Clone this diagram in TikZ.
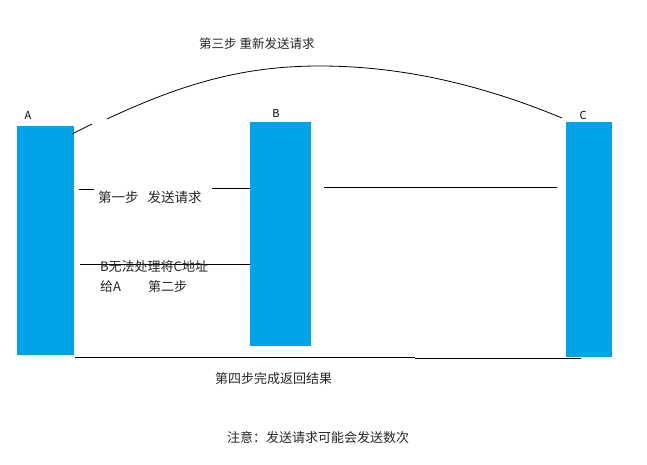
\documentclass[tikz,border=0pt]{standalone}
\usepackage{fontspec}
\setmainfont{Noto Sans CJK SC}
\definecolor{barblue}{RGB}{0,162,232}
\begin{document}
\begin{tikzpicture}[x=1pt,y=-1pt,
  bar/.style={fill=barblue,draw=none,inner sep=0pt,outer sep=0pt},
  lbl/.style={font=\fontsize{11}{13}\selectfont,inner sep=0pt},
  txt/.style={font=\fontsize{13}{20}\selectfont,inner sep=0pt,anchor=west,text=black!85},
  ln/.style={draw=black,line width=0.8pt}]
\useasboundingbox (0,0) rectangle (647,464);
% bars
\node[bar,minimum width=57pt,minimum height=229pt] (A) at (45.5,240.5) {};
\node[bar,minimum width=61pt,minimum height=224pt] (B) at (280.5,234) {};
\node[bar,minimum width=46pt,minimum height=235pt] (C) at (589,239.5) {};
\node[lbl] (Al) at (28,115) {A};
\node[lbl] (Bl) at (276,113) {B};
\node[lbl] (Cl) at (583,115) {C};
% step 3 arc
\coordinate (a0) at (72,134);
\coordinate (a1) at (92,124);
\coordinate (c0) at (107,119);
\coordinate (cm) at (320,66);
\coordinate (c1) at (562,118);
\draw[ln] (a0) -- (a1);
\draw[ln] (c0) .. controls (190,80) and (250,66) .. (cm) .. controls (400,66) and (480,84) .. (c1);
\node[txt,font=\fontsize{12.5}{15}\selectfont] (t3) at (199,44) {第三步 重新发送请求};
% step 1
\coordinate (s1a) at (79,189);
\coordinate (s1b) at (94,189);
\coordinate (s1c) at (212,188);
\coordinate (s1d) at (324,187);
\coordinate (s1e) at (557,187);
\draw[ln] (s1a) -- (s1b);
\draw[ln] (s1c) -- (s1c -| B.west);
\draw[ln] (s1d) -- (s1e);
\node[txt,font=\fontsize{13.5}{16}\selectfont] (t1) at (98,197) {第一步\hspace{9pt}发送请求};
% step 2
\coordinate (s2a) at (80,264);
\draw[ln] (s2a) -- (s2a -| B.west);
\node[txt,align=left,anchor=north west] (t2) at (100,260) {B无法处理将C地址\\给A\hspace{27pt}第二步};
% step 4
\coordinate (s4a) at (75,357);
\coordinate (s4b) at (415,357);
\coordinate (s4c) at (415,358);
\coordinate (s4d) at (581,358);
\draw[ln] (s4a) -- (s4b);
\draw[ln] (s4c) -- (s4d);
\node[txt] (t4) at (215,379) {第四步完成返回结果};
\node[txt] (t5) at (227,438) {注意：发送请求可能会发送数次};
\end{tikzpicture}
\end{document}
